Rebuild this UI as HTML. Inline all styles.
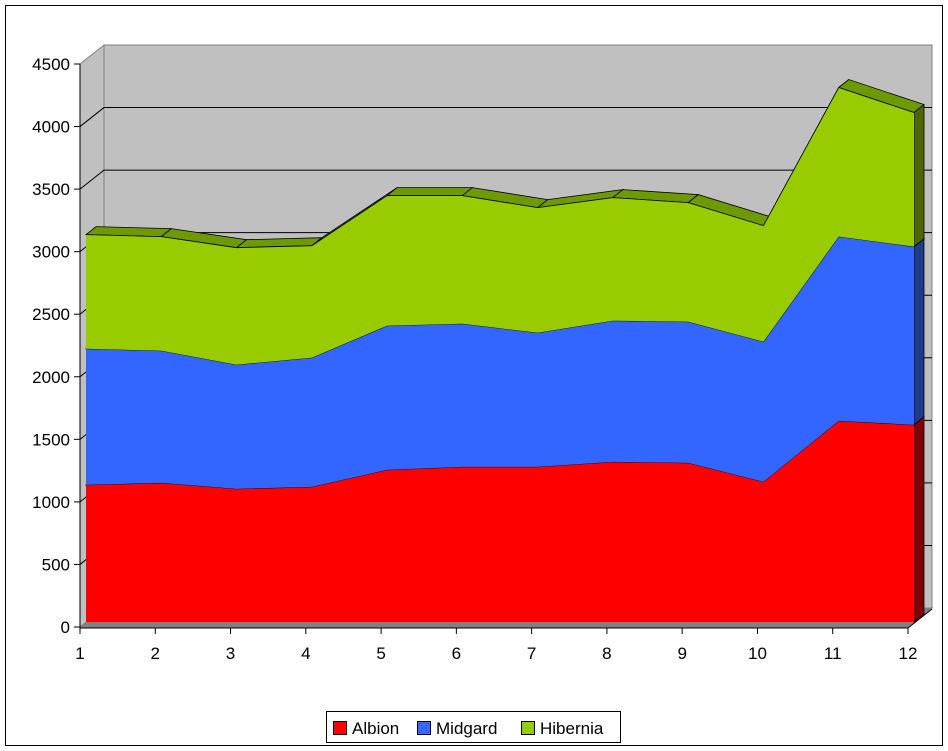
<!DOCTYPE html>
<html><head><meta charset="utf-8"><style>
body{margin:0;background:#fff;}
svg{display:block;font-family:"Liberation Sans",Arial,sans-serif;}
</style></head><body>
<svg id="chart" width="948" height="751" viewBox="0 0 948 751">
<rect x="5.5" y="5.5" width="937" height="740" fill="#fff" stroke="#000"/>
<g id="walls"></g>
<g id="series"></g>
<g id="axes"></g>
<g>
<rect x="326.5" y="711.5" width="294" height="31" fill="#fff" stroke="#000"/>
<rect x="333.5" y="721.5" width="13" height="13" fill="#ff0000" stroke="#000"/>
<text x="352" y="734" font-size="17">Albion</text>
<rect x="417.5" y="721.5" width="13" height="13" fill="#3366ff" stroke="#000"/>
<text x="436" y="734" font-size="17">Midgard</text>
<rect x="521.5" y="721.5" width="13" height="13" fill="#99cc00" stroke="#000"/>
<text x="540" y="734" font-size="17">Hibernia</text>
</g>
</svg>
<script>
const categories=[1,2,3,4,5,6,7,8,9,10,11,12];
const albion=[1096,1112,1064,1080,1216,1240,1240,1280,1272,1120,1608,1576];
const midgard=[1088,1056,992,1032,1152,1144,1072,1128,1128,1120,1472,1424];
const hibernia=[912,912,936,896,1040,1024,1000,984,952,928,1192,1072];
const yTicks=[0,500,1000,1500,2000,2500,3000,3500,4000,4500];

const NS="http://www.w3.org/2000/svg";
const X0=80,X1=908,Y0=627,YMAX=4500,YTOP=64;
const DX=24,DY=-19; // wall depth
const FX=6,FY=-5;   // front face offset
const SX=10,SY=-8;  // series depth
function xs(i){return X0+(X1-X0)*i/(categories.length-1);}
function ys(v){return Y0-(Y0-YTOP)*v/YMAX;}
function mk(parent,tag,attrs){const e=document.createElementNS(NS,tag);for(const k in attrs)e.setAttribute(k,attrs[k]);parent.appendChild(e);return e;}
const walls=document.getElementById('walls'),ser=document.getElementById('series'),axes=document.getElementById('axes');

let e;
e=mk(walls,'polygon',{points:`${X0},${ys(YMAX)} ${X0+DX},${ys(YMAX)+DY} ${X0+DX},${Y0+DY} ${X0},${Y0}`,fill:'#c0c0c0',stroke:'#808080'});


e=mk(walls,'rect',{x:X0+DX,y:ys(YMAX)+DY,width:X1-X0,height:Y0-ys(YMAX),fill:'#c0c0c0',stroke:'#808080'});


e=mk(walls,'polygon',{points:`${X0},${Y0} ${X1},${Y0} ${X1+DX},${Y0+DY} ${X0+DX},${Y0+DY}`,fill:'#808080',stroke:'#808080'});


yTicks.forEach(t=>{
  if(t===0||t===YMAX)return;
  const y=ys(t);
  e=mk(walls,'polyline',{points:`${X0},${y} ${X0+DX},${y+DY} ${X1+DX},${y+DY}`,fill:'none',stroke:'#000','stroke-width':1});
  
  
});

function cum(k,i){let s=0;const arr=[albion,midgard,hibernia];for(let j=0;j<=k;j++)s+=arr[j][i];return s;}
const fills=['#ff0000','#3366ff','#99cc00'],tops=['#990000','#2a52cc','#669900'],sides=['#800000','#1f3a8a','#4d6600'];
const names=['albion','midgard','hibernia'];
const n=categories.length;
for(let k=0;k<3;k++){
  const fx=i=>xs(i)+FX, fy=v=>ys(v)+FY;
  // top strip
  for(let i=0;i<n-1;i++){
    const a=cum(k,i),b=cum(k,i+1);
    e=mk(ser,'polygon',{points:`${fx(i)},${fy(a)} ${fx(i+1)},${fy(b)} ${fx(i+1)+SX},${fy(b)+SY} ${fx(i)+SX},${fy(a)+SY}`,fill:k===2?'#6f9900':tops[k],stroke:'#000','stroke-width':0.8});
    
    
  }
  // right side
  const lo=k===0?0:cum(k-1,n-1),hi=cum(k,n-1);
  e=mk(ser,'polygon',{points:`${fx(n-1)},${fy(lo)} ${fx(n-1)},${fy(hi)} ${fx(n-1)+SX},${fy(hi)+SY} ${fx(n-1)+SX},${fy(lo)+SY}`,fill:sides[k],stroke:'#000','stroke-width':0.8});
  
  
  // front face
  let pts=[];
  for(let i=0;i<n;i++)pts.push(`${fx(i)},${fy(cum(k,i))}`);
  for(let i=n-1;i>=0;i--)pts.push(`${fx(i)},${fy(k===0?0:cum(k-1,i))}`);
  e=mk(ser,'polygon',{points:pts.join(' '),fill:fills[k],stroke:'none'});
  
  
  let tl=[];for(let i=0;i<n;i++)tl.push(`${fx(i)},${fy(cum(k,i))}`);
  e=mk(ser,'polyline',{points:tl.join(' '),fill:'none',stroke:'#000','stroke-width':0.8});
  
  
}

e=mk(axes,'line',{x1:X0,y1:ys(YMAX),x2:X0,y2:Y0+1,stroke:'#000'});


e=mk(axes,'line',{x1:X0,y1:Y0+1,x2:X1,y2:Y0+1,stroke:'#000'});


e=mk(axes,'line',{x1:X1,y1:Y0+1,x2:X1+DX,y2:Y0+1+DY,stroke:'#000'});


yTicks.forEach(t=>{
  const y=ys(t);
  e=mk(axes,'line',{x1:X0-6,y1:y,x2:X0,y2:y,stroke:'#000'});
  
  
  e=mk(axes,'text',{x:X0-10,y:y+6,'text-anchor':'end','font-size':17});
  e.textContent=t;
  
  
});
categories.forEach((c,i)=>{
  const x=xs(i);
  e=mk(axes,'line',{x1:x,y1:Y0+1,x2:x,y2:Y0+7,stroke:'#000'});
  
  
  e=mk(axes,'text',{x:x,y:Y0+32,'text-anchor':'middle','font-size':17});
  e.textContent=c;
  
  
});
</script>
</body></html>
